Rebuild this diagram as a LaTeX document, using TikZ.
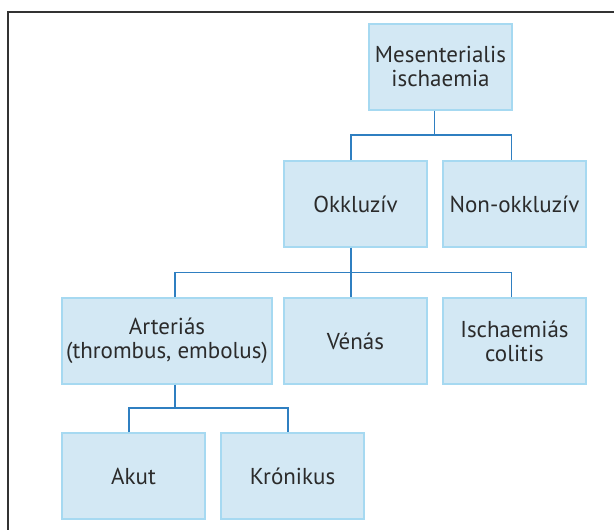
\documentclass[tikz,border=0pt]{standalone}
\usepackage{fontspec}
\setmainfont{PT Sans}
\usepackage{xcolor}
\usepackage{tikz}
\usetikzlibrary{positioning}

\definecolor{boxfill}{HTML}{D3E8F4}
\definecolor{boxline}{HTML}{A6D9F1}
\definecolor{linkblue}{HTML}{2F7FC1}
\definecolor{textgray}{HTML}{2B2B2B}

\begin{document}
\begin{tikzpicture}[
    x=1pt, y=1pt,
    box/.style={rectangle, draw=boxline, fill=boxfill, line width=1.3pt,
                minimum width=143pt, minimum height=86pt, inner sep=0pt,
                align=center, text=textgray,
                font=\fontsize{23}{24}\selectfont},
    wide box/.style={box, minimum width=210pt},
    link/.style={draw=linkblue, line width=1.2pt},
  ]
  \useasboundingbox (0,0) rectangle (614,530);

  % Frame
  \draw[line width=1.2pt, black!80] (616,518) -- (8,518) -- (8,-2);

  % Nodes
  \node[box] (mes) at (440.5, 463) {Mesenterialis\\ischaemia};
  \node[box] (okk) at (355.5, 326) {Okkluzív};
  \node[box] (non) at (514.5, 326) {Non-okkluzív};
  \node[wide box] (art) at (167, 189) {Arteriás\\(thrombus, embolus)};
  \node[box] (ven) at (355.5, 189) {Vénás};
  \node[box] (isc) at (514.5, 189) {Ischaemiás\\colitis};
  \node[box] (aku) at (133.5, 54)  {Akut};
  \node[box] (kro) at (292.5, 54)  {Krónikus};

  % Junctions
  \coordinate (j1) at (434.7, 395);
  \coordinate (j2) at (351, 257.3);
  \coordinate (j3) at (175, 122);

  % Edges
  \draw[link] (j1 |- mes.south) -- (j1);
  \draw[link] ([xshift=-4.5pt]okk.north) |- (j1) -| ([xshift=-3pt]non.north);
  \draw[link] ([xshift=-4.5pt]okk.south) -- ([xshift=-4.5pt]ven.north);
  \draw[link] ([xshift=8pt]art.north) |- (j2) -| ([xshift=-3pt]isc.north);
  \draw[link] ([xshift=8pt]art.south) -- (j3);
  \draw[link] ([xshift=-4.5pt]aku.north) |- (j3) -| ([xshift=-4.5pt]kro.north);

\end{tikzpicture}
\end{document}
